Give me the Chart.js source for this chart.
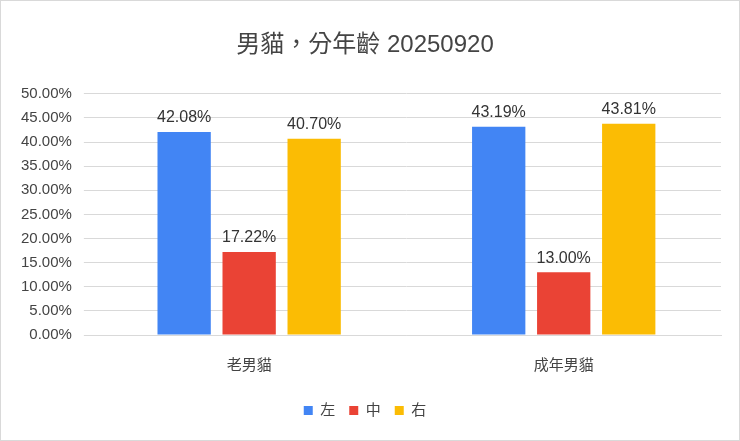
<!DOCTYPE html>
<html>
<head>
<meta charset="utf-8">
<script src="https://cdn.jsdelivr.net/npm/chart.js@4"></script>
<style>
  body { margin: 0; background: #fff; }
  #wrap { width: 738px; height: 439px; border: 1px solid #d9d9d9; }
</style>
</head>
<body>
<div id="wrap"><canvas id="myChart" width="738" height="439"></canvas></div>
<script>
// data
const categories = ["老男貓", "成年男貓"];
const leftValues = [42.08, 43.19];
const midValues = [17.22, 13.0];
const rightValues = [40.7, 43.81];

const font = "'Liberation Sans', 'Noto Sans CJK TC', sans-serif";

// labels above bars
const barLabels = {
  id: "barLabels",
  afterDatasetsDraw(chart) {
    const c = chart.ctx;
    c.save();
    c.fillStyle = "#333";
    c.font = "16px " + font;
    c.textAlign = "center";
    c.textBaseline = "bottom";
    chart.data.datasets.forEach((ds, i) => {
      chart.getDatasetMeta(i).data.forEach((bar, j) => {
        c.fillText(ds.data[j].toFixed(2) + "%", bar.x, bar.y - 6);
      });
    });
    c.restore();
  },
};

new Chart(document.getElementById("myChart"), {
  type: "bar",
  data: {
    labels: categories,
    datasets: [
      { label: "左", data: leftValues, backgroundColor: "#4285F4" },
      { label: "中", data: midValues, backgroundColor: "#EA4335" },
      { label: "右", data: rightValues, backgroundColor: "#FBBC04" },
    ],
  },
  options: {
    responsive: false,
    animation: false,
    layout: { padding: { left: 8, right: 18, top: 4, bottom: 12 } },
    datasets: { bar: { categoryPercentage: 0.62, barPercentage: 0.82 } },
    plugins: {
      title: {
        display: true,
        text: "男貓，分年齡 20250920",
        color: "#444",
        font: { family: font, size: 24, weight: "normal" },
        padding: { top: 26, bottom: 34 },
      },
      legend: {
        position: "bottom",
        labels: {
          color: "#444",
          font: { family: font, size: 15 },
          boxWidth: 9,
          boxHeight: 9,
          padding: 14,
        },
      },
      tooltip: { enabled: false },
    },
    scales: {
      x: {
        grid: { display: false },
        border: { color: "#d9d9d9" },
        ticks: { color: "#444", font: { family: font, size: 15 }, padding: 14 },
      },
      y: {
        min: 0,
        max: 50,
        ticks: {
          stepSize: 5,
          color: "#444",
          padding: 12,
          font: { family: font, size: 15 },
          callback: (v) => v.toFixed(2) + "%",
        },
        grid: { color: "#d9d9d9" },
        border: { display: false },
      },
    },
  },
  plugins: [barLabels],
});
</script>
</body>
</html>
